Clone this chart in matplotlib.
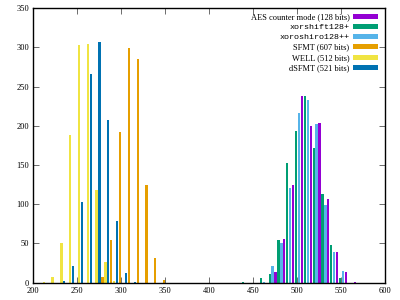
import matplotlib
matplotlib.use('Agg')
import matplotlib.pyplot as plt
from matplotlib.patches import Patch

# bin start (width 10) -> count
names = ["AES counter mode (128 bits)", "xorshift128+", "xoroshiro128++",
         "SFMT (607 bits)", "WELL (512 bits)", "dSFMT (521 bits)"]

aes_bins = [470, 480, 490, 500, 510, 520, 530, 540, 550, 560]
aes_cnt = [13, 56, 124, 238, 200, 203, 107, 39, 13, 1]

xorshift_bins = [440, 460, 470, 480, 490, 500, 510, 520, 530, 540, 550]
xorshift_cnt = [1, 6, 11, 54, 153, 193, 238, 172, 113, 48, 6]

xoroshiro_bins = [460, 470, 480, 490, 500, 510, 520, 530, 540, 550]
xoroshiro_cnt = [1, 21, 50, 121, 216, 233, 202, 99, 39, 15]

sfmt_bins = [280, 290, 300, 310, 320, 330, 340, 350]
sfmt_cnt = [7, 55, 192, 299, 285, 125, 32, 3]

well_bins = [210, 220, 230, 240, 250, 260, 270, 280, 290]
well_cnt = [1, 7, 51, 188, 303, 304, 118, 26, 2]

dsfmt_bins = [230, 240, 250, 260, 270, 280, 290, 300, 310]
dsfmt_cnt = [2, 21, 103, 266, 307, 208, 79, 12, 1]

# gnuplot default line colours
colors = ["#9400d3", "#009e73", "#56b4e9", "#e69f00", "#f0e442", "#0072b2"]
offsets = [5.6, -1.0, 2.3, -1.0, 2.3, 5.6]
series = [(aes_bins, aes_cnt), (xorshift_bins, xorshift_cnt),
          (xoroshiro_bins, xoroshiro_cnt), (sfmt_bins, sfmt_cnt),
          (well_bins, well_cnt), (dsfmt_bins, dsfmt_cnt)]

serif = ['Liberation Serif', 'DejaVu Serif']
mono = ['Liberation Mono', 'DejaVu Sans Mono']

fig = plt.figure(figsize=(4, 3), dpi=100)
ax = fig.add_axes([0.0825, 0.0577, 0.88, 0.915])

for (b, c), col, off in zip(series, colors, offsets):
    ax.bar([x + off for x in b], c, width=2.6, color=col, align='center',
           linewidth=0, zorder=2)

ax.set_xlim(200, 600)
ax.set_ylim(0, 350)
ax.set_xticks(range(200, 601, 50))
ax.set_yticks(range(0, 351, 50))
ax.tick_params(direction='in', length=4, width=0.6, color='#555555',
               top=True, right=True, labelsize=6, pad=3)
for lab in ax.get_xticklabels() + ax.get_yticklabels():
    lab.set_family(serif)
for sp in ax.spines.values():
    sp.set_linewidth(1.0)

# legend
handles = [Patch(facecolor=col, edgecolor='none') for col in colors]
leg = ax.legend(handles, names, loc='upper right', markerfirst=False,
                frameon=False, fontsize=6, handlelength=3.0, handleheight=0.5,
                labelspacing=0.3, handletextpad=0.45, borderaxespad=0.0,
                borderpad=0.3, bbox_to_anchor=(0.988, 0.99))
for i, t in enumerate(leg.get_texts()):
    t.set_family(mono if i in (1, 2) else serif)

plt.savefig("out.png", dpi=100)
